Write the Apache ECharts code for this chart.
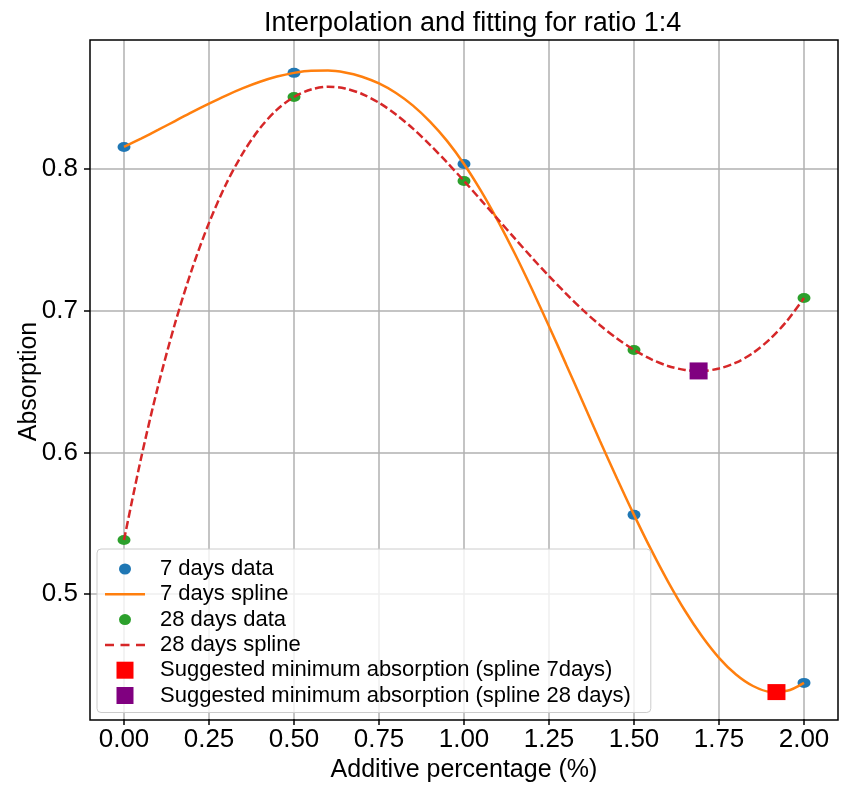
<!DOCTYPE html>
<html>
<head>
<meta charset="utf-8">
<script src="https://cdn.jsdelivr.net/npm/echarts@6/dist/echarts.min.js"></script>
<style>
html,body{margin:0;padding:0;background:#fff;}
#chart{width:842px;height:788px;}
</style>
</head>
<body>
<div id="chart"></div>
<script>
// ---- data ----
var xData = [0.0, 0.5, 1.0, 1.5, 2.0];
var days7 = [0.8155, 0.8678, 0.8035, 0.5558, 0.4372];
var days28 = [0.5380, 0.8508, 0.7915, 0.6722, 0.7089];

var splineX = [0.00, 0.05, 0.10, 0.15, 0.20, 0.25, 0.30, 0.35, 0.40, 0.45, 0.50,
               0.55, 0.60, 0.65, 0.70, 0.75, 0.80, 0.85, 0.90, 0.95, 1.00,
               1.05, 1.10, 1.15, 1.20, 1.25, 1.30, 1.35, 1.40, 1.45, 1.50,
               1.55, 1.60, 1.65, 1.70, 1.75, 1.80, 1.85, 1.90, 1.95, 2.00];
var spline7 = [0.8155, 0.8214, 0.8275, 0.8338, 0.8401, 0.8461, 0.8518, 0.8570, 0.8615, 0.8652, 0.8678,
               0.8693, 0.8694, 0.8681, 0.8651, 0.8603, 0.8536, 0.8447, 0.8334, 0.8198, 0.8035,
               0.7845, 0.7632, 0.7399, 0.7150, 0.6890, 0.6622, 0.6351, 0.6080, 0.5815, 0.5558,
               0.5314, 0.5087, 0.4881, 0.4701, 0.4549, 0.4431, 0.4350, 0.4310, 0.4316, 0.4372];
var spline28 = [0.5380, 0.5956, 0.6465, 0.6909, 0.7293, 0.7619, 0.7892, 0.8113, 0.8288, 0.8418, 0.8508,
                0.8561, 0.8580, 0.8568, 0.8529, 0.8467, 0.8384, 0.8284, 0.8170, 0.8046, 0.7915,
                0.7780, 0.7644, 0.7508, 0.7373, 0.7243, 0.7120, 0.7003, 0.6897, 0.6803, 0.6722,
                0.6657, 0.6609, 0.6581, 0.6574, 0.6591, 0.6632, 0.6701, 0.6799, 0.6927, 0.7089];

var min7 = [1.919, 0.4307];
var min28 = [1.690, 0.6574];

var xTicks = [0, 2, 0.25];      // min, max, step
var yTicks = [0.5, 0.8, 0.1];

var seriesNames = ['7 days data', '7 days spline', '28 days data', '28 days spline',
  'Suggested minimum absorption (spline 7days)', 'Suggested minimum absorption (spline 28 days)'];

function pairs(xs, ys) { return xs.map(function (x, i) { return [x, ys[i]]; }); }

var FONT = "'Liberation Sans', Arial, sans-serif";
var circleIcon = 'path://M0,0M17,17M2.5,8.5A6,5.5,0,1,1,14.5,8.5A6,5.5,0,1,1,2.5,8.5Z';
var squareIcon = 'path://M0,0h17v17h-17z';
var solidIcon = 'path://M0,0h40v2.5h-40z';
var dashIcon = 'path://M0,0h9v2.5h-9zM15.5,0h9v2.5h-9zM31,0h9v2.5h-9z';

var chart = echarts.init(document.getElementById('chart'), null, {renderer: 'canvas'});
var option = {
  animation: false,
  backgroundColor: '#ffffff',
  textStyle: {fontFamily: FONT},
  title: {
    text: 'Interpolation and fitting for ratio 1:4',
    left: 259, top: 5,
    textStyle: {fontFamily: FONT, fontSize: 27, fontWeight: 'normal', color: '#000'}
  },
  legend: {
    orient: 'vertical',
    left: 97, top: 549,
    padding: [9, 20, 6, 8],
    itemWidth: 40, itemHeight: 17, itemGap: 3.3,
    backgroundColor: 'rgba(255,255,255,0.8)',
    borderColor: '#cccccc', borderWidth: 1, borderRadius: 4,
    textStyle: {fontFamily: FONT, fontSize: 22, color: '#000', lineHeight: 22, padding: [0, 0, 0, 10]},
    data: [
      {name: seriesNames[0], icon: circleIcon},
      {name: seriesNames[1], icon: solidIcon},
      {name: seriesNames[2], icon: circleIcon},
      {name: seriesNames[3], icon: dashIcon},
      {name: seriesNames[4], icon: squareIcon},
      {name: seriesNames[5], icon: squareIcon}
    ]
  },
  grid: [
    {left: 90, right: 4, top: 40, bottom: 68, show: true, borderColor: '#000', borderWidth: 1.5, backgroundColor: 'transparent', z: 1},
    {left: 124, right: 38, top: 40, bottom: 68},
    {left: 90, right: 4, top: 169, height: 425}
  ],
  xAxis: [
    {type: 'value', gridIndex: 0, min: -0.1, max: 2.1,
     axisLine: {show: false}, axisTick: {show: false}, axisLabel: {show: false}, splitLine: {show: false}},
    {type: 'value', gridIndex: 1, min: xTicks[0], max: xTicks[1], interval: xTicks[2],
     axisLine: {show: false},
     axisTick: {show: true, length: 6, lineStyle: {color: '#000', width: 1.5}},
     axisLabel: {show: true, fontSize: 26, color: '#000', fontFamily: FONT, margin: 8,
       formatter: function (v) { return v.toFixed(2); }},
     splitLine: {show: true, lineStyle: {color: '#b0b0b0', width: 1.5}},
     name: 'Additive percentage (%)', nameLocation: 'middle', nameGap: 39, nameMoveOverlap: false,
     nameTextStyle: {fontSize: 25, color: '#000', fontFamily: FONT}},
    {type: 'value', gridIndex: 2, min: 0, max: 1, show: false}
  ],
  yAxis: [
    {type: 'value', gridIndex: 0, min: 0.411, max: 0.891,
     axisLine: {show: false}, axisTick: {show: false}, axisLabel: {show: false}, splitLine: {show: false}},
    {type: 'value', gridIndex: 1, min: 0, max: 1, show: false},
    {type: 'value', gridIndex: 2, min: yTicks[0], max: yTicks[1], interval: yTicks[2],
     axisLine: {show: false},
     axisTick: {show: true, length: 6, lineStyle: {color: '#000', width: 1.5}},
     axisLabel: {show: true, fontSize: 26, color: '#000', fontFamily: FONT, margin: 12,
       formatter: function (v) { return v.toFixed(1); }},
     splitLine: {show: true, lineStyle: {color: '#b0b0b0', width: 1.5}},
     name: 'Absorption', nameLocation: 'middle', nameGap: 48, nameRotate: 90, nameMoveOverlap: false,
     nameTextStyle: {fontSize: 25, color: '#000', fontFamily: FONT}}
  ],
  series: [
    {name: seriesNames[0], type: 'scatter', xAxisIndex: 0, yAxisIndex: 0, z: 2,
     symbol: 'circle', symbolSize: [13, 10], itemStyle: {color: '#1f77b4', opacity: 1},
     data: pairs(xData, days7)},
    {name: seriesNames[1], type: 'line', xAxisIndex: 0, yAxisIndex: 0, z: 3,
     symbol: 'none', smooth: 0.3, color: '#ff7f0e',
     lineStyle: {color: '#ff7f0e', width: 2.5},
     data: pairs(splineX, spline7)},
    {name: seriesNames[2], type: 'scatter', xAxisIndex: 0, yAxisIndex: 0, z: 4,
     symbol: 'circle', symbolSize: [13, 10], itemStyle: {color: '#2ca02c', opacity: 1},
     data: pairs(xData, days28)},
    {name: seriesNames[3], type: 'line', xAxisIndex: 0, yAxisIndex: 0, z: 5,
     symbol: 'none', smooth: 0.3, color: '#d62728',
     lineStyle: {color: '#d62728', width: 2.5, type: [8, 3.5]},
     data: pairs(splineX, spline28)},
    {name: seriesNames[4], type: 'scatter', xAxisIndex: 0, yAxisIndex: 0, z: 6,
     symbol: 'rect', symbolSize: [18, 16], itemStyle: {color: '#ff0000', opacity: 1},
     data: [min7]},
    {name: seriesNames[5], type: 'scatter', xAxisIndex: 0, yAxisIndex: 0, z: 6,
     symbol: 'rect', symbolSize: [18, 17], itemStyle: {color: '#800080', opacity: 1},
     data: [min28]}
  ]
};
chart.setOption(option);
</script>
</body>
</html>
